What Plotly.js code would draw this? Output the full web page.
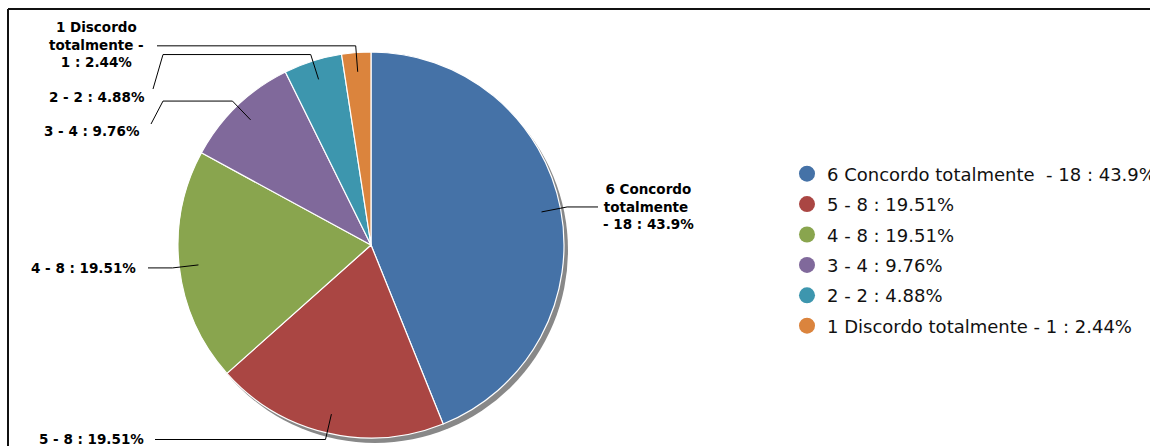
<!DOCTYPE html>
<html>
<head>
<meta charset="utf-8">
<script src="https://cdn.plot.ly/plotly-3.0.1.min.js"></script>
<style>html,body{margin:0;padding:0;background:#fff}#chart{width:1150px;height:446px}</style>
</head>
<body>
<div id="chart"></div>
<script>
// ---- data ----
const categories = ['6 Concordo totalmente\u00A0', '5', '4', '3', '2', '1 Discordo totalmente'];
const counts = [18, 8, 8, 4, 2, 1];
const colors = ['#4572A7', '#AA4643', '#89A54E', '#80699B', '#3D96AE', '#DB843D'];

// ---- layout constants (pixels) ----
const W = 1150, H = 446;
const CX = 371, CY = 245, R = 193;
const SHADOW_DX = 4, SHADOW_DY = 5;
// label anchor positions and connector tails
const labelLayout = [
  {x: 648, y: 206, xanchor: 'center', tail: [[598, null]]},
  {x: 146, y: 439, xanchor: 'right', tail: [[155, null]]},
  {x: 138, y: 268, xanchor: 'right', tail: [[148, null]]},
  {x: 142, y: 131, xanchor: 'right', tail: [[163, null], [151, 124]]},
  {x: 147, y: 97, xanchor: 'right', tail: [[163, null], [153, 89]]},
  {x: 96, y: 45, xanchor: 'center', tail: [[157, null]]}
];

const px = x => x / W;
const py = y => 1 - y / H;

const total = counts.reduce((a, b) => a + b, 0);
const pcts = counts.map(v => Math.round(v / total * 10000) / 100);
const labelText = categories.map((c, i) => c + ' - ' + counts[i] + ' : ' + pcts[i] + '%');

function wrap(s, maxChars) {
  if (s.length <= 20) return s;
  const words = s.split(' ');
  const lines = [];
  let cur = '';
  words.forEach(w => {
    const cand = cur === '' ? w : cur + ' ' + w;
    if (cand.length > maxChars && cur !== '') { lines.push(cur); cur = w; }
    else cur = cand;
  });
  if (cur !== '') lines.push(cur);
  return lines.join('<br>');
}

const dom = {
  x: [px(CX - R), px(CX + R)],
  y: [py(CY + R), py(CY - R)]
};
const shadowDom = {
  x: [px(CX - R + SHADOW_DX), px(CX + R + SHADOW_DX)],
  y: [py(CY + R + SHADOW_DY), py(CY - R + SHADOW_DY)]
};

const traces = [];
traces.push({
  type: 'pie', values: [1], labels: ['shadow'], domain: shadowDom,
  marker: {colors: ['#888888'], line: {width: 0}},
  textinfo: 'none', hoverinfo: 'skip', showlegend: false, sort: false
});
traces.push({
  type: 'pie', values: counts, labels: labelText, domain: dom,
  marker: {colors: colors, line: {color: '#ffffff', width: 1.2}},
  textinfo: 'none', sort: false, direction: 'clockwise', rotation: 0,
  showlegend: false, hoverinfo: 'label'
});
labelText.forEach((t, i) => {
  traces.push({
    type: 'scatter', mode: 'markers', x: [null], y: [null],
    name: t, legendgroup: 'g' + i,
    marker: {color: colors[i], size: 16, symbol: 'circle'},
    hoverinfo: 'skip'
  });
});

// connectors + annotations computed from slice angles
const shapes = [];
const annotations = [];
let cum = 0;
counts.forEach((v, i) => {
  const mid = (cum + v / 2) / total;
  cum += v;
  const th = 2 * Math.PI * mid;
  const inner = [CX + 0.9 * R * Math.sin(th), CY - 0.9 * R * Math.cos(th)];
  const bend = [CX + 1.035 * R * Math.sin(th), CY - 1.035 * R * Math.cos(th)];
  const pts = [inner, bend];
  labelLayout[i].tail.forEach(p => pts.push([p[0], p[1] === null ? bend[1] : p[1]]));
  const path = pts.map((p, k) => (k ? 'L' : 'M') + px(p[0]) + ',' + py(p[1])).join(' ');
  shapes.push({type: 'path', xref: 'paper', yref: 'paper', path: path,
    line: {color: '#000000', width: 1}});
  const L = labelLayout[i];
  annotations.push({
    xref: 'paper', yref: 'paper', x: px(L.x), y: py(L.y),
    xanchor: L.xanchor, yanchor: 'middle', align: 'center', showarrow: false,
    text: '<b>' + wrap(labelText[i], 12) + '</b>',
    font: {family: 'DejaVu Sans', size: 13.5, color: '#000000'}
  });
});

// chart border (top and left visible)
shapes.push({type: 'line', xref: 'paper', yref: 'paper', x0: px(8), x1: px(W + 5), y0: py(9), y1: py(9),
  line: {color: '#111111', width: 2}});
shapes.push({type: 'line', xref: 'paper', yref: 'paper', x0: px(8), x1: px(8), y0: py(9), y1: py(H + 5),
  line: {color: '#111111', width: 2}});

const layout = {
  width: W, height: H,
  margin: {l: 0, r: 0, t: 0, b: 0, autoexpand: false},
  paper_bgcolor: '#ffffff', plot_bgcolor: '#ffffff',
  xaxis: {visible: false}, yaxis: {visible: false},
  showlegend: true,
  legend: {
    x: px(787), y: py(155.5), xanchor: 'left', yanchor: 'top',
    font: {family: 'DejaVu Sans', size: 18, color: '#111111'},
    tracegroupgap: 4, traceorder: 'grouped', bgcolor: 'rgba(0,0,0,0)'
  },
  shapes: shapes,
  annotations: annotations
};

Plotly.newPlot('chart', traces, layout, {displayModeBar: false, staticPlot: true});
</script>
</body>
</html>
